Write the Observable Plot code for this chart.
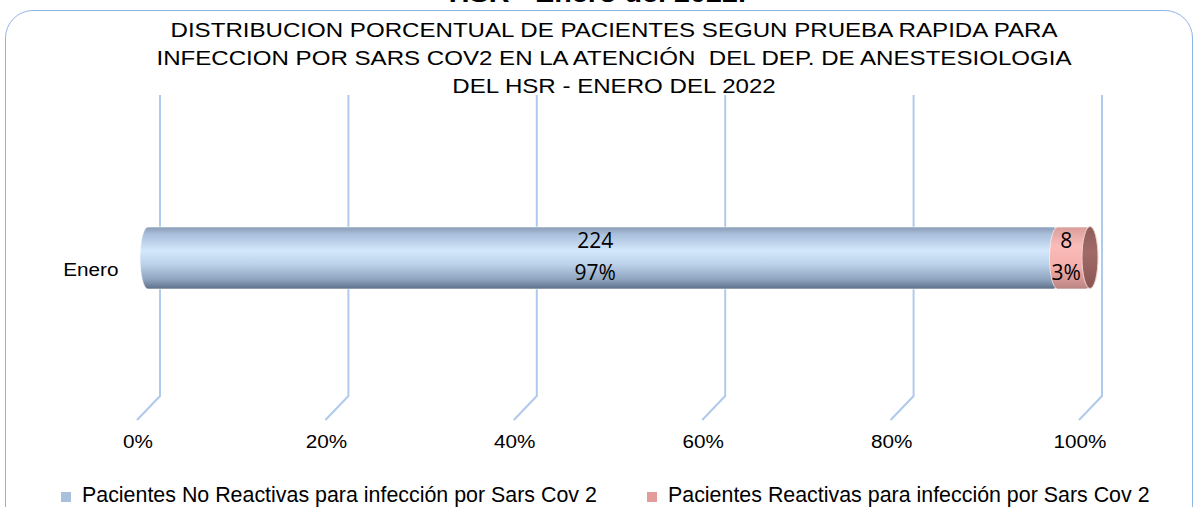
<!DOCTYPE html>
<html><head><meta charset="utf-8">
<script src="https://cdn.jsdelivr.net/npm/d3@7"></script>
<script src="https://cdn.jsdelivr.net/npm/@observablehq/plot@0.6"></script>
<style>
body{margin:0;background:#fff;}
#wrap{position:relative;width:1196px;height:507px;overflow:hidden;font-family:"Liberation Sans",Arial,sans-serif;color:#000;}
#border{position:absolute;left:5px;top:10px;width:1188px;height:540px;border:1px solid #8eb4e3;border-radius:28px;box-sizing:border-box;}
#super{position:absolute;top:-19px;left:0;width:1196px;text-align:center;font-weight:bold;font-size:25px;line-height:25px;white-space:nowrap;transform:scaleX(1.15);transform-origin:602px 0;}
#title{position:absolute;top:16px;left:0;width:1228px;text-align:center;font-size:21px;line-height:28px;white-space:nowrap;transform:scaleX(1.147);transform-origin:614px 0;}
#chart{position:absolute;top:95px;left:0;}
.leg{position:absolute;top:483px;font-size:21.4px;line-height:24px;white-space:nowrap;}
.sw{display:inline-block;width:10px;height:10px;margin-right:11px;vertical-align:0px;}
</style></head>
<body>
<div id="wrap">
  <div id="border"></div>
  <div id="super">HSR - Enero del 2022.</div>
  <div id="title">DISTRIBUCION PORCENTUAL DE PACIENTES SEGUN PRUEBA RAPIDA PARA<br>INFECCION POR SARS COV2 EN LA ATENCIÓN&nbsp; DEL DEP. DE ANESTESIOLOGIA<br>DEL HSR - ENERO DEL 2022</div>
  <div id="chart"></div>
</div>
<script>
const categories = ["Enero"];
const series = ["Pacientes No Reactivas para infección por Sars Cov 2", "Pacientes Reactivas para infección por Sars Cov 2"];
const counts = [224, 8];
const percentLabels = ["97%", "3%"];
const xTicks = [0, 0.2, 0.4, 0.6, 0.8, 1];
const tickLabels = ["0%", "20%", "40%", "60%", "80%", "100%"];
const swatchColors = ["#a7c0de", "#e39c99"];
const legendLeft = [61, 647];

const data = series.map((s, i) => ({cat: categories[0], serie: s, n: counts[i], pct: percentLabels[i]}));

const defsMark = () => {
  const g = d3.create("svg:g");
  const defs = g.append("defs");
  const lg = (id, stops) => {
    const grad = defs.append("linearGradient").attr("id", id).attr("x1", 0).attr("y1", 0).attr("x2", 0).attr("y2", 1);
    stops.forEach(([o, c]) => grad.append("stop").attr("offset", o).attr("stop-color", c));
  };
  lg("gBlue", [[0, "#8a9cb6"], [0.12, "#a9bfdb"], [0.38, "#d3e8fb"], [0.6, "#bcd2ea"], [0.85, "#8ea3be"], [1, "#5c6f88"]]);
  lg("gPink", [[0, "#d99d9a"], [0.3, "#fbbcb9"], [0.65, "#f4aeab"], [1, "#b98481"]]);
  lg("gCap", [[0, "#8c5d5a"], [0.4, "#a06a67"], [1, "#8a5653"]]);
  return g.node();
};

const gridMark = (index, scales, values, dims) => {
  const g = d3.create("svg:g").attr("fill", "none").attr("stroke", "#afcaec").attr("stroke-width", 2);
  const top = dims.marginTop, bottom = dims.height - dims.marginBottom;
  for (const t of xTicks) {
    const x = scales.x(t);
    g.append("path").attr("d", `M${x + 20},${top}V${bottom - 24}L${x - 3},${bottom}`);
  }
  return g.node();
};

const capMark = (index, scales, values, dims) => {
  const x = scales.x(xTicks[xTicks.length - 1]) + 8;
  const cy = dims.marginTop + (dims.height - dims.marginTop - dims.marginBottom) / 2;
  return d3.create("svg:ellipse").attr("cx", x).attr("cy", cy).attr("rx", 8).attr("ry", 31)
    .attr("fill", "url(#gCap)").attr("stroke", "#f3d0ce").attr("stroke-width", 1).node();
};

const chart = Plot.plot({
  width: 1196, height: 365,
  marginLeft: 140, marginRight: 114, marginTop: 0, marginBottom: 40,
  style: {fontFamily: "Liberation Sans, Arial, sans-serif", fontSize: "18px", overflow: "visible", background: "transparent"},
  x: {domain: [0, 1], axis: null},
  y: {domain: categories, axis: null, padding: 0},
  color: {domain: series, range: ["url(#gBlue)", "url(#gPink)"]},
  marks: [
    defsMark,
    gridMark,
    Plot.text(xTicks, {x: d => d, frameAnchor: "bottom", dy: 27, dx: -2.5, text: (d, i) => tickLabels[i], fontSize: 18, fill: "#000"}),
    Plot.text(categories, {y: d => d, frameAnchor: "left", dx: -22, dy: 12.5, textAnchor: "end", text: d => d, fontSize: 18, fill: "#000"}),
    Plot.barX(data, Plot.stackX({offset: "normalize", x: "n", y: "cat", fill: "serie", insetLeft: 0, insetRight: -12, insetTop: 132, insetBottom: 131, rx: 8, ry: 31, stroke: "#ffffff", strokeOpacity: 0.6})),
    capMark,
    Plot.text(data, Plot.stackX({offset: "normalize", x: "n", y: "cat", z: "serie", text: "n", dy: -17, fontSize: 21, fontFamily: "Open Sans", fill: "#000"})),
    Plot.text(data, Plot.stackX({offset: "normalize", x: "n", y: "cat", z: "serie", text: "pct", dy: 15, fontSize: 21, fontFamily: "Open Sans", fill: "#000"}))
  ]
});
document.getElementById("chart").appendChild(chart);

// the reference's axis texts are drawn slightly wide: stretch them horizontally
chart.querySelectorAll("text").forEach(t => {
  const g = t.closest("g[font-family]");
  if (g && /Open Sans/.test(g.getAttribute("font-family"))) return;
  const len = t.getComputedTextLength();
  if (len > 0) { t.setAttribute("textLength", len * 1.15); t.setAttribute("lengthAdjust", "spacingAndGlyphs"); }
});

const wrap = document.getElementById("wrap");
series.forEach((s, i) => {
  const d = document.createElement("div");
  d.className = "leg";
  d.style.left = legendLeft[i] + "px";
  const sw = document.createElement("span");
  sw.className = "sw";
  sw.style.background = swatchColors[i];
  d.appendChild(sw);
  d.appendChild(document.createTextNode(s));
  wrap.appendChild(d);
});
</script>
</body></html>
